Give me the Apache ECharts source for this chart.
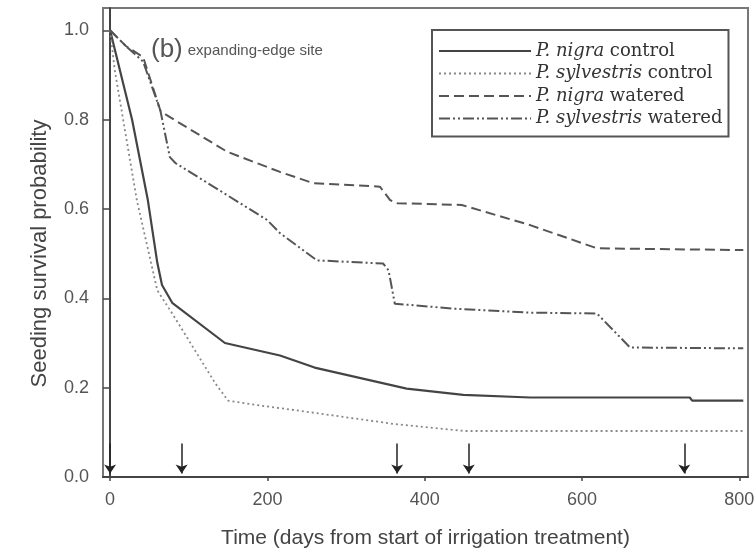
<!DOCTYPE html>
<html>
<head>
<meta charset="utf-8">
<script src="https://cdn.jsdelivr.net/npm/echarts@6/dist/echarts.min.js"></script>
<style>
  html, body { margin: 0; padding: 0; background: #fff; }
  #chart { width: 756px; height: 552px; }
</style>
</head>
<body>
<div id="chart"></div>
<script>
// survival curves, [day, probability]
const nigraControl = [[0, 1.0], [28, 0.8], [48, 0.62], [60, 0.48], [66, 0.43], [79, 0.39], [146, 0.30], [216, 0.272], [260, 0.245], [377, 0.198], [449, 0.184], [534, 0.178], [737, 0.178], [740, 0.171], [805, 0.171]]
const sylvControl = [[0, 1.0], [6, 0.91], [34, 0.62], [60, 0.418], [79, 0.366], [134, 0.209], [150, 0.171], [191, 0.16], [242, 0.148], [360, 0.119], [451, 0.103], [805, 0.103]]
const nigraWatered = [[0, 1.0], [20, 0.965], [42, 0.94], [64, 0.82], [72, 0.81], [149, 0.728], [216, 0.683], [258, 0.658], [343, 0.65], [356, 0.62], [365, 0.613], [447, 0.609], [534, 0.564], [619, 0.512], [805, 0.508]]
const sylvWatered = [[0, 1.0], [20, 0.965], [42, 0.93], [64, 0.82], [76, 0.716], [83, 0.703], [200, 0.575], [216, 0.546], [263, 0.485], [347, 0.478], [354, 0.463], [362, 0.388], [436, 0.377], [534, 0.368], [619, 0.366], [661, 0.29], [805, 0.288]]
// irrigation dates (arrows on the x axis)
const arrowDays = [0, 91, 365, 456, 730]
const xTicks = [0, 200, 400, 600, 800]
const yTicks = [0, 0.2, 0.4, 0.6, 0.8, 1.0]

const chart = echarts.init(document.getElementById('chart'))

const lineSeries = (name, data, color, type, width) => ({
  name: name,
  type: 'line',
  data: data,
  showSymbol: false,
  symbol: 'none',
  silent: true,
  lineStyle: { color: color, width: width, type: type },
  itemStyle: { color: color }
})

const option = {
  animation: false,
  title: {
    text: '{b|(b)} {s|expanding-edge site}',
    left: 146,
    top: 32,
    textStyle: {
      rich: {
        b: { fontSize: 26, fontWeight: 'normal', color: '#555', fontFamily: 'Liberation Sans' },
        s: { fontSize: 15, fontWeight: 'normal', color: '#555', fontFamily: 'Liberation Sans', padding: [2, 0, 0, 0] }
      }
    }
  },
  legend: {
    orient: 'vertical',
    left: 432,
    top: 30,
    padding: [12, 6, 9, 6],
    itemWidth: 92,
    itemHeight: 16,
    itemGap: 4.5,
    borderColor: '#555',
    borderWidth: 2,
    selectedMode: false,
    itemStyle: { opacity: 0, borderWidth: 0 },
    formatter: function (name) {
      const p = name.split(' ')
      return '{i|' + p[0] + ' ' + p[1] + '} ' + p.slice(2).join(' ')
    },
    textStyle: {
      fontFamily: 'DejaVu Serif',
      fontSize: 18,
      color: '#333',
      rich: {
        i: { fontStyle: 'italic', fontFamily: 'DejaVu Serif', fontSize: 18, color: '#333' }
      }
    }
  },
  grid: {
    left: 103,
    right: 8,
    top: 8,
    bottom: 75,
    outerBoundsMode: 'none',
    show: true,
    borderColor: '#777',
    borderWidth: 2
  },
  xAxis: {
    type: 'value',
    min: -9,
    max: 811,
    name: 'Time (days from start of irrigation treatment)',
    nameLocation: 'middle',
    nameGap: 51,
    nameTextStyle: { fontSize: 21, color: '#444', fontFamily: 'Liberation Sans' },
    splitLine: { show: false },
    axisLine: { onZero: false, lineStyle: { color: '#444', width: 2 } },
    axisTick: { length: 4, customValues: xTicks, lineStyle: { color: '#444', width: 1.5 } },
    axisLabel: { customValues: xTicks, fontSize: 18, color: '#555', margin: 14, fontFamily: 'Liberation Sans' }
  },
  yAxis: {
    type: 'value',
    min: 0,
    max: 1.05,
    name: 'Seeding survival probability',
    nameLocation: 'middle',
    nameGap: 52,
    nameTextStyle: { fontSize: 22, color: '#444', fontFamily: 'Liberation Sans', padding: [0, 22, 0, 0] },
    splitLine: { show: false },
    axisLine: { lineStyle: { color: '#444', width: 2 } },
    axisTick: { length: 7, customValues: yTicks, lineStyle: { color: '#444', width: 1.5 } },
    axisLabel: {
      customValues: yTicks,
      fontSize: 18,
      color: '#555',
      margin: 14,
      fontFamily: 'Liberation Sans',
      formatter: v => v.toFixed(1)
    }
  },
  series: [
    lineSeries('P. nigra control', nigraControl, '#444', 'solid', 2.2),
    lineSeries('P. sylvestris control', sylvControl, '#888', [2, 3], 1.8),
    lineSeries('P. nigra watered', nigraWatered, '#555', [10, 5], 2),
    lineSeries('P. sylvestris watered', sylvWatered, '#555', [11, 3, 2, 3, 2, 3], 2),
    {
      type: 'line',
      data: [],
      silent: true,
      markLine: {
        silent: true,
        symbol: ['none', 'arrow'],
        symbolSize: 9,
        label: { show: false },
        lineStyle: { color: '#222', width: 1.5, type: 'solid' },
        data: arrowDays.map(d => [{ coord: [d, 0.075] }, { coord: [d, 0.008] }])
      }
    }
  ]
}

chart.setOption(option)
</script>
</body>
</html>
